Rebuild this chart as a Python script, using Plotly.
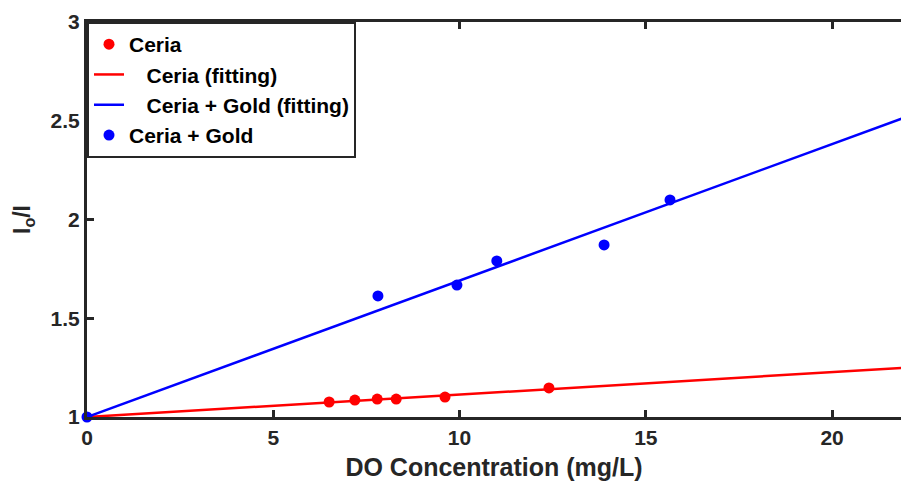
import plotly.graph_objects as go

ceria_x = [6.5, 7.19, 7.79, 8.3, 9.61, 12.4]
ceria_y = [1.076, 1.086, 1.091, 1.091, 1.101, 1.147]
gold_x = [0, 7.81, 9.93, 11.0, 13.88, 15.65]
gold_y = [1.0, 1.613, 1.668, 1.79, 1.871, 2.099]
fit_x = [0, 22]
ceria_fit_y = [1.0, 1.25]
gold_fit_y = [1.0, 2.52]
x_ticks = [0, 5, 10, 15, 20]
y_ticks = [1, 1.5, 2, 2.5, 3]
y_ticklabels = ["1", "1.5", "2", "2.5", "3"]
pad = "\u00a0\u00a0\u00a0"

fig = go.Figure()
fig.add_trace(go.Scatter(x=fit_x, y=ceria_fit_y, mode="lines", name=pad + "Ceria (fitting)",
                         line=dict(color="#ff0000", width=2.5), legendrank=2))
fig.add_trace(go.Scatter(x=fit_x, y=gold_fit_y, mode="lines", name=pad + "Ceria + Gold (fitting)",
                         line=dict(color="#0000ff", width=2.5), legendrank=3))
fig.add_trace(go.Scatter(x=ceria_x, y=ceria_y, mode="markers", name="Ceria",
                         marker=dict(color="#ff0000", size=11), legendrank=1, cliponaxis=False))
fig.add_trace(go.Scatter(x=gold_x, y=gold_y, mode="markers", name="Ceria + Gold",
                         marker=dict(color="#0000ff", size=11), legendrank=4, cliponaxis=False))

fig.update_layout(
    width=901, height=482,
    margin=dict(l=87, r=0, t=22, b=65, autoexpand=False),
    plot_bgcolor="white", paper_bgcolor="white",
    font=dict(family="Liberation Sans", color="#262626"),
    showlegend=True,
    legend=dict(x=0, y=1, xanchor="left", yanchor="top",
                bordercolor="#262626", borderwidth=2, bgcolor="white",
                font=dict(family="Liberation Sans", size=21, color="black", weight="bold"),
                tracegroupgap=0, itemwidth=30),
    xaxis=dict(range=[0, 21.85], tickvals=x_ticks, ticks="inside", ticklen=7, tickwidth=2.5,
               tickcolor="#262626", showline=True, linecolor="#262626", linewidth=3,
               mirror="ticks", showgrid=False, zeroline=False, automargin=False,
               tickfont=dict(family="Liberation Sans", size=21, color="#262626", weight="bold"),
               title=dict(text="DO Concentration (mg/L)", standoff=11,
                          font=dict(family="Liberation Sans", size=25, color="#262626", weight="bold"))),
    yaxis=dict(range=[1, 3], tickvals=y_ticks, ticktext=y_ticklabels, ticks="inside", ticklen=7,
               tickwidth=2.5, tickcolor="#262626", showline=True, linecolor="#262626", linewidth=3,
               showgrid=False, zeroline=False, automargin=False,
               tickfont=dict(family="Liberation Sans", size=21, color="#262626", weight="bold"),
               title=dict(text="I<sub>o</sub>/I", standoff=14,
                          font=dict(family="Liberation Sans", size=23, color="#262626", weight="bold"))),
)
fig.write_html("out.html", config={"displayModeBar": False},
               post_script="document.body.style.margin='0';document.body.style.overflow='hidden';")
